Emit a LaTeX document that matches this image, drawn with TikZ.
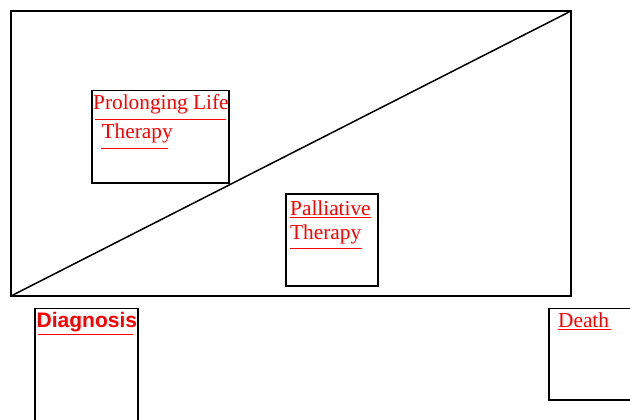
\documentclass[tikz,border=0pt]{standalone}
\usepackage{fontspec}
\setmainfont{Liberation Serif}
\newfontfamily\labsans{Liberation Sans}
\begin{document}
\begin{tikzpicture}[x=1pt,y=-1pt,
  box/.style={draw=black,line width=1.5pt},
  lab/.style={anchor=base west,inner sep=0pt,text=red,font=\fontsize{21.3}{25}\selectfont},
  ul/.style={draw=red,line width=1pt}]
\useasboundingbox (0,0) rectangle (630,420);
\draw[box] (11,11) rectangle (571,296);
\coordinate (bl) at (11,296);
\coordinate (tr) at (571,11);
\draw[box] (bl) -- (tr);
% Prolonging Life Therapy
\node[box,fill=white,minimum width=137pt,minimum height=92pt,inner sep=0pt,anchor=north west] (plt) at (91,90) {};
\node[lab] (plt1) at (93,109.5) {Prolonging Life};
\node[lab] (plt2) at (101.5,138.5) {Therapy};
\draw[ul] (95,120) -- (225.5,120);
\draw[ul] (101,148) -- (167.5,148);
% Palliative Therapy
\node[box,fill=white,minimum width=92pt,minimum height=92pt,inner sep=0pt,anchor=north west] (pt) at (285,193) {};
\node[lab] (pt1) at (290,215.8) {Palliative};
\node[lab] (pt2) at (290,239) {Therapy};
\draw[ul] (290,217.5) -- (370.5,217.5);
\draw[ul] (290,248.5) -- (361.5,248.5);
% Diagnosis
\node[box,minimum width=103pt,minimum height=120pt,inner sep=0pt,anchor=north west] (dg) at (34,307.5) {};
\node[lab,font=\labsans\bfseries\fontsize{21}{25}\selectfont] (dg1) at (36.5,327.5) {Diagnosis};
\draw[ul,line width=1.6pt] (38,334.5) -- (133,334.5);
% Death
\node[box,minimum width=95pt,minimum height=91.5pt,inner sep=0pt,anchor=north west] (dt) at (548,307.5) {};
\node[lab] (dt1) at (558,327.5) {Death};
\draw[ul] (558,329.5) -- (611,329.5);
\end{tikzpicture}
\end{document}
